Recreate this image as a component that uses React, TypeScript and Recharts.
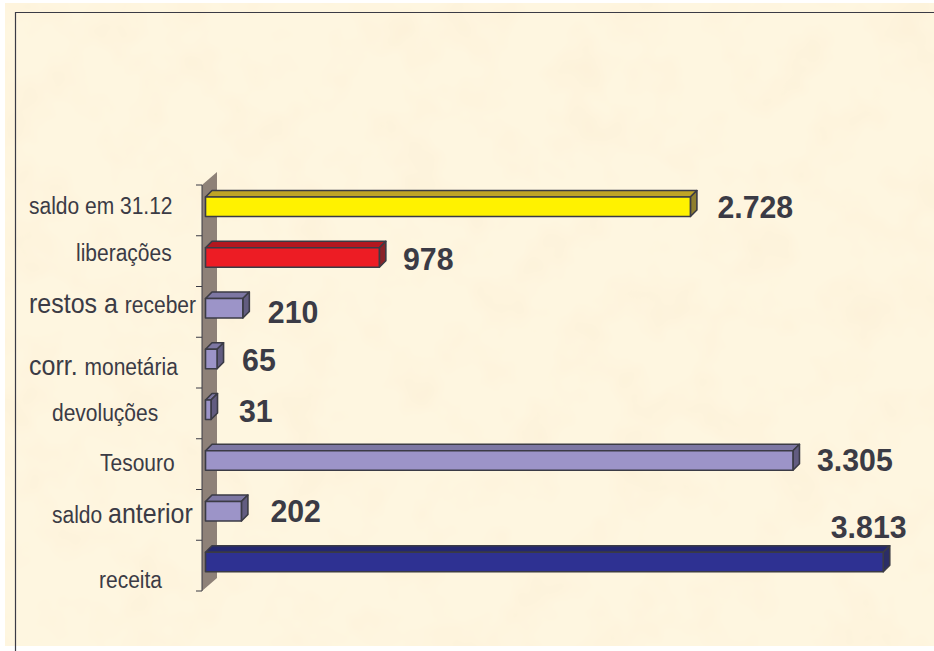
import { Bar, BarChart, Cell, LabelList, XAxis, YAxis, usePlotArea } from "recharts";

const CATEGORIES = [
  "saldo em 31.12",
  "liberações",
  "restos a receber",
  "corr. monetária",
  "devoluções",
  "Tesouro",
  "saldo anterior",
  "receita",
];
const VALUES = [2728, 978, 210, 65, 31, 3305, 202, 3813];
const VALUE_LABELS = ["2.728", "978", "210", "65", "31", "3.305", "202", "3.813"];
const FILLS = ["yellow", "red", "lilac", "lilac", "lilac", "lilac", "lilac", "navy"];

// the labels were placed by hand in the original, so each one has its own nudge
const TICK_LEFT = [29, 76, 29, 29, 52, 100, 52, 99];
const TICK_DY = [3.6, -0.3, 1, 12.6, 7.7, 6.9, 8.2, 22.8];
const TICK_PARTS: [string, number][][] = [
  [["saldo em 31.12", 21]],
  [["liberações", 21]],
  [["restos a ", 25], ["receber", 21]],
  [["corr. ", 25], ["monetária", 21]],
  [["devoluções", 21]],
  [["Tesouro", 21]],
  [["saldo ", 21], ["anterior", 25]],
  [["receita", 21]],
];
const VALUE_DX = [27, 23.6, 25, 25, 28, 24, 29, -52.5];
const VALUE_DY = [7.6, 8, 10.3, 7.6, 8, 6.9, 6.5, -28.5];

const SHADES: Record<string, { front: string; top: string; side: string }> = {
  yellow: { front: "#fff200", top: "#bfa426", side: "#8f7f2e" },
  red: { front: "#ed1c24", top: "#b3171f", side: "#8a2228" },
  lilac: { front: "#9c94c8", top: "#7d77a3", side: "#625c80" },
  navy: { front: "#2e3192", top: "#24276f", side: "#2b2d66" },
};

const INK = "#3b3b45";
const FONT = "'Liberation Sans', Arial, sans-serif";
const data = CATEGORIES.map((name, i) => ({ name, value: VALUES[i], tone: FILLS[i] }));

// bars sit in the middle of the wall's depth
const SHIFT_X = 3.5;
const SHIFT_Y = -4;
const DEPTH = 6.5;

function Bar3D(props: any) {
  const { x, y, width, height, tone } = props;
  const c = SHADES[tone];
  const l = x + SHIFT_X;
  const r = l + width;
  const t = y + SHIFT_Y;
  const b = t + height;
  const stroke = { stroke: INK, strokeWidth: 1.6, strokeLinejoin: "round" as const };
  return (
    <g>
      <polygon points={`${l},${t} ${l + DEPTH},${t - DEPTH} ${r + DEPTH},${t - DEPTH} ${r},${t}`} fill={c.top} {...stroke} />
      <polygon points={`${r},${t} ${r + DEPTH},${t - DEPTH} ${r + DEPTH},${b - DEPTH} ${r},${b}`} fill={c.side} {...stroke} />
      <rect x={l} y={t} width={width} height={height} fill={c.front} {...stroke} />
    </g>
  );
}

function Wall() {
  const plot = usePlotArea();
  if (!plot) return null;
  const { x, y, height } = plot;
  const band = height / CATEGORIES.length;
  return (
    <g>
      <polygon
        points={`${x},${y} ${x + 15},${y - 13} ${x + 15},${y + height - 13} ${x},${y + height}`}
        fill="#8e8178"
      />
      <line x1={x} y1={y} x2={x} y2={y + height} stroke={INK} strokeWidth={1} />
      {[...CATEGORIES, ""].map((_, i) => (
        <line key={i} x1={x - 6} y1={y + i * band} x2={x} y2={y + i * band} stroke={INK} strokeWidth={1} />
      ))}
    </g>
  );
}

function CategoryTick(props: any) {
  const { y, index } = props;
  // the original text is stretched upward, same width but taller
  return (
    <text
      transform={`translate(${TICK_LEFT[index]},${y + TICK_DY[index]}) scale(1,1.14)`}
      fill={INK}
      fontFamily={FONT}
    >
      {TICK_PARTS[index].map(([text, size]) => (
        <tspan key={text} fontSize={size} xmlSpace="preserve">
          {text}
        </tspan>
      ))}
    </text>
  );
}

function ValueLabel(props: any) {
  const { x, y, width, height, index } = props;
  const left = x + width + SHIFT_X + VALUE_DX[index];
  const base = y + height / 2 + VALUE_DY[index];
  return (
    <text
      transform={`translate(${left},${base}) scale(1,1.06)`}
      fill={INK}
      fontFamily={FONT}
      fontSize={30.3}
      fontWeight="bold"
    >
      {VALUE_LABELS[index]}
    </text>
  );
}

export default function App() {
  return (
    <div style={{ position: "absolute", left: 0, top: 0, width: 934, height: 651, background: "#fff", overflow: "hidden" }}>
      <svg width={934} height={651} style={{ position: "absolute", left: 0, top: 0 }}>
        <defs>
          <filter id="paper" x="0" y="0" width="100%" height="100%">
            <feTurbulence type="fractalNoise" baseFrequency="0.018" numOctaves={3} seed={7} />
            <feColorMatrix values="0 0 0 0 0.98  0 0 0 0 0.87  0 0 0 0 0.68  1.6 0 0 0 -0.72" />
          </filter>
        </defs>
        <rect x={5} y={3} width={929} height={643} fill="#fef6e0" />
        <rect x={5} y={3} width={929} height={643} filter="url(#paper)" />
        <line x1={15.5} y1={12} x2={15.5} y2={651} stroke={INK} strokeWidth={1.2} />
        <line x1={15} y1={12.5} x2={934} y2={12.5} stroke={INK} strokeWidth={1.2} />
      </svg>
      <div style={{ position: "absolute", left: 0, top: 0 }}>
        <BarChart
          width={934}
          height={651}
          data={data}
          layout="vertical"
          margin={{ top: 185, right: 21, bottom: 60, left: 0 }}
          barSize={19.5}
        >
          <Wall />
          <XAxis type="number" domain={[0, 4000]} hide />
          <YAxis
            type="category"
            dataKey="name"
            width={202}
            axisLine={false}
            tickLine={false}
            interval={0}
            tick={<CategoryTick />}
          />
          <Bar dataKey="value" shape={(p: any) => <Bar3D {...p} tone={p.payload.tone} />} isAnimationActive={false}>
            {data.map((d) => (
              <Cell key={d.name} fill={SHADES[d.tone].front} />
            ))}
            <LabelList dataKey="value" content={<ValueLabel />} />
          </Bar>
        </BarChart>
      </div>
    </div>
  );
}
